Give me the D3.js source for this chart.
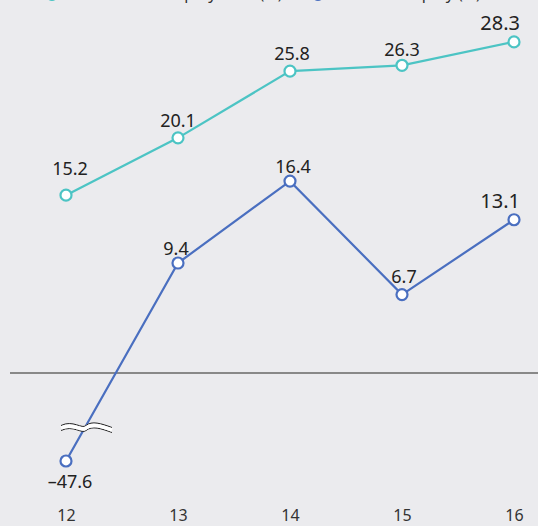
<!DOCTYPE html>
<html>
<head>
<meta charset="utf-8">
<script src="https://cdn.jsdelivr.net/npm/d3@7"></script>
<style>
  body { margin: 0; background: #ebebee; }
  svg { display: block; font-family: "Noto Sans", "Open Sans", sans-serif; }
</style>
</head>
<body>
<div id="chart"></div>
<script>
var years = ["12", "13", "14", "15", "16"];
var equityRatio = [15.2, 20.1, 25.8, 26.3, 28.3];
var roe = [-47.6, 9.4, 16.4, 6.7, 13.1];
var seriesNames = ["Shareholders' equity ratio (%)", "Return on equity (%)"];

var width = 538, height = 526;

var svg = d3.select("#chart")
    .append("svg")
    .attr("width", width)
    .attr("height", height);

svg.append("rect")
    .attr("width", width)
    .attr("height", height)
    .attr("fill", "#ebebee");

// x positions
var x = d3.scalePoint()
    .domain(years)
    .range([66, 514]);

// broken y scale: the -47.6 point is squeezed below the break
var y = d3.scaleLinear()
    .domain([-47.6, 0, 30])
    .range([461, 373, 22]);

// zero line
svg.append("line")
    .attr("x1", 10)
    .attr("x2", width)
    .attr("y1", y(0))
    .attr("y2", y(0))
    .attr("stroke", "#888")
    .attr("stroke-width", 2);

// x axis
var xAxis = svg.append("g")
    .attr("transform", "translate(0,506)")
    .call(d3.axisBottom(x).tickSize(0).tickPadding(4));
xAxis.select(".domain").remove();
xAxis.selectAll("text")
    .attr("font-family", "Noto Sans, sans-serif")
    .attr("font-size", 16)
    .attr("fill", "#333");

var line = d3.line()
    .x(function(d, i) { return x(years[i]); })
    .y(function(d) { return y(d); });

function drawSeries(values, color) {
    svg.append("path")
        .datum(values)
        .attr("d", line)
        .attr("fill", "none")
        .attr("stroke", color)
        .attr("stroke-width", 2.2);
    svg.append("g")
        .selectAll("circle")
        .data(values)
        .enter().append("circle")
        .attr("cx", function(d, i) { return x(years[i]); })
        .attr("cy", function(d) { return y(d); })
        .attr("r", 5.5)
        .attr("fill", "#fff")
        .attr("stroke", color)
        .attr("stroke-width", 2.2);
}

var teal = "#4cc4c4", blue = "#4a6fc0";

drawSeries(roe, blue);
drawSeries(equityRatio, teal);

// break mark on the ROE line
var bx = 86, by = 428;
var wave = function(dy) {
    return "M" + (bx - 25) + "," + (by + dy) +
        " C" + (bx - 13) + "," + (by + dy - 6) + " " + (bx - 4) + "," + (by + dy + 4) + " " + bx + "," + (by + dy) +
        " C" + (bx + 6) + "," + (by + dy - 5) + " " + (bx + 15) + "," + (by + dy - 2) + " " + (bx + 26) + "," + (by + dy + 2);
};
svg.append("path")
    .attr("d", wave(0))
    .attr("fill", "none")
    .attr("stroke", "#ebebee")
    .attr("stroke-width", 5);
svg.append("path")
    .attr("d", wave(-2.5))
    .attr("fill", "none")
    .attr("stroke", "#222")
    .attr("stroke-width", 1);
svg.append("path")
    .attr("d", wave(2.5))
    .attr("fill", "none")
    .attr("stroke", "#222")
    .attr("stroke-width", 1);
svg.append("path")
    .attr("d", wave(0))
    .attr("fill", "none")
    .attr("stroke", "#fff")
    .attr("stroke-width", 3.5);

// value labels: [dx, dy, size, anchor]
var tealLabels = [[4, -20, 18, "middle"], [0, -11, 18, "middle"], [2, -11, 18, "middle"], [0, -9, 18, "middle"], [6, -12, 20, "end"]];
var blueLabels = [[4, 27, 18, "middle"], [-2, -8, 18, "middle"], [3, -8, 18, "middle"], [2, -12, 18, "middle"], [6, -12, 20, "end"]];

function drawLabels(values, opts) {
    svg.append("g")
        .selectAll("text")
        .data(values)
        .enter().append("text")
        .attr("x", function(d, i) { return x(years[i]) + opts[i][0]; })
        .attr("y", function(d, i) { return y(d) + opts[i][1]; })
        .attr("font-size", function(d, i) { return opts[i][2]; })
        .attr("text-anchor", function(d, i) { return opts[i][3]; })
        .attr("fill", "#222")
        .text(function(d) { return d < 0 ? "\u2013" + Math.abs(d).toFixed(1) : d.toFixed(1); });
}
drawLabels(equityRatio, tealLabels);
drawLabels(roe, blueLabels);

// legend (mostly cut off at the top edge, as in the source)
var legend = svg.append("g").attr("transform", "translate(0,-1)");
[[52, teal, seriesNames[0]], [318, blue, seriesNames[1]]].forEach(function(l) {
    legend.append("circle")
        .attr("cx", l[0]).attr("cy", -4).attr("r", 5)
        .attr("fill", "#fff").attr("stroke", l[1]).attr("stroke-width", 2);
    legend.append("text")
        .attr("x", l[0] + 10).attr("y", 0)
        .attr("font-size", 16).attr("fill", "#333")
        .text(l[2]);
});
</script>
</body>
</html>
